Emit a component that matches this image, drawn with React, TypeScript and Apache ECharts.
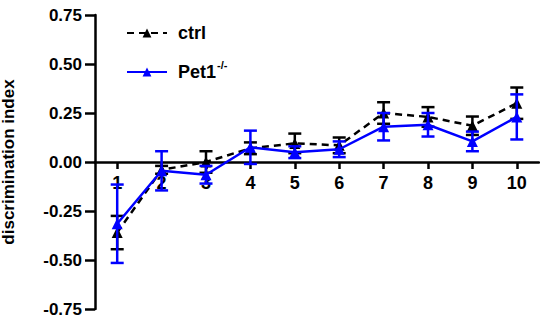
import React, { useEffect, useRef } from "react";
import * as echarts from "echarts";

const categories = ["1", "2", "3", "4", "5", "6", "7", "8", "9", "10"];
const ctrlMean = [-0.36, -0.04, 0.0, 0.07, 0.095, 0.085, 0.25, 0.23, 0.185, 0.3];
const ctrlErr = [0.085, 0.02, 0.055, 0.03, 0.05, 0.04, 0.055, 0.05, 0.047, 0.08];
const pet1Mean = [-0.315, -0.045, -0.065, 0.075, 0.05, 0.065, 0.18, 0.19, 0.105, 0.23];
const pet1Err = [0.2, 0.1, 0.045, 0.085, 0.03, 0.04, 0.07, 0.06, 0.05, 0.115];
const yTicks = [-0.75, -0.5, -0.25, 0, 0.25, 0.5, 0.75];

const FONT = "Liberation Sans, Arial, sans-serif";
const GRID_TOP = 15;
const GRID_BOTTOM = 10;
const HEIGHT = 319;

function errorSeries(name: string, mean: number[], err: number[], color: string, z: number) {
  const data = mean.map((m, i) => [i, m - err[i], m + err[i]]);
  return {
    type: "custom",
    name: name + "-err",
    z,
    silent: true,
    renderItem: (params: any, api: any) => {
      const x = api.value(0);
      const lo = api.coord([x, api.value(1)]);
      const hi = api.coord([x, api.value(2)]);
      const hw = 6.5;
      const style = { stroke: color, lineWidth: 2.5, fill: "none" };
      return {
        type: "group",
        children: [
          { type: "line", shape: { x1: lo[0], y1: lo[1], x2: hi[0], y2: hi[1] }, style },
          { type: "line", shape: { x1: lo[0] - hw, y1: lo[1], x2: lo[0] + hw, y2: lo[1] }, style },
          { type: "line", shape: { x1: hi[0] - hw, y1: hi[1], x2: hi[0] + hw, y2: hi[1] }, style },
        ],
      };
    },
    encode: { x: 0, y: 1 },
    data,
  };
}

export default function App() {
  const ref = useRef<HTMLDivElement>(null);
  useEffect(() => {
    if (!ref.current) return;
    const chart = echarts.init(ref.current, undefined, { renderer: "svg" });
    const yMin = yTicks[0];
    const yMax = yTicks[yTicks.length - 1];
    const plotH = HEIGHT - GRID_TOP - GRID_BOTTOM;
    const zeroOffset = -plotH * ((0 - yMin) / (yMax - yMin));
    chart.setOption({
      animation: false,
      backgroundColor: "#ffffff",
      grid: { left: 95, right: 1, top: GRID_TOP, bottom: GRID_BOTTOM, containLabel: false, outerBoundsMode: "none" },
      legend: {
        orient: "vertical",
        left: 121,
        top: 19,
        itemWidth: 40,
        itemHeight: 11,
        itemGap: 17,
        data: ["ctrl", "Pet1"],
        formatter: (n: string) => (n === "Pet1" ? "Pet1{sup|-/-}" : n),
        textStyle: {
          fontFamily: FONT,
          fontWeight: "bold",
          fontSize: 18,
          color: "#000",
          padding: [0, 0, 0, 6],
          rich: {
            sup: { fontFamily: FONT, fontWeight: "bold", fontSize: 11, verticalAlign: "bottom", padding: [0, 0, 15, 1], color: "#000" },
          },
        },
      },
      xAxis: {
        type: "category",
        data: categories,
        boundaryGap: true,
        position: "bottom",
        offset: zeroOffset,
        axisLine: { show: true, onZero: false, lineStyle: { color: "#000", width: 2.5 } },
        axisTick: { show: true, alignWithLabel: true, length: 7, lineStyle: { color: "#000", width: 2.5 } },
        axisLabel: { show: false },
        splitLine: { show: false },
      },
      yAxis: {
        type: "value",
        min: yMin,
        max: yMax,
        interval: 0.25,
        name: "discrimination index",
        nameLocation: "middle",
        nameGap: 78,
        nameTextStyle: { fontFamily: FONT, fontWeight: "bold", fontSize: 17, color: "#000" },
        axisLine: { show: true, onZero: false, lineStyle: { color: "#000", width: 2.5 } },
        axisTick: { show: true, length: 10, lineStyle: { color: "#000", width: 2.5 } },
        axisLabel: {
          fontFamily: FONT,
          fontWeight: "bold",
          fontSize: 17,
          color: "#000",
          margin: 13,
          formatter: (v: number) => {
            const t = yTicks.find((k) => Math.abs(k - v) < 1e-9);
            return (t === undefined ? v : t).toFixed(2);
          },
        },
        splitLine: { show: false },
      },
      series: [
        {
          type: "custom",
          name: "xlabels",
          z: 1,
          silent: true,
          encode: { x: 0, y: 1 },
          data: categories.map((c, i) => [i, 0]),
          renderItem: (params: any, api: any) => {
            const p = api.coord([api.value(0), 0]);
            return {
              type: "text",
              x: p[0],
              y: p[1] + 12,
              style: {
                text: categories[params.dataIndex],
                fontFamily: FONT,
                fontWeight: "bold",
                fontSize: 18,
                fill: "#000",
                align: "center",
                verticalAlign: "top",
              },
            };
          },
        },
        errorSeries("ctrl", ctrlMean, ctrlErr, "#000000", 2),
        {
          type: "line",
          name: "ctrl",
          z: 3,
          data: ctrlMean,
          symbol: "triangle",
          symbolSize: 11,
          itemStyle: { color: "#000000" },
          lineStyle: { color: "#000000", width: 2.5, type: [7, 5] },
        },
        errorSeries("Pet1", pet1Mean, pet1Err, "#0000ff", 4),
        {
          type: "line",
          name: "Pet1",
          z: 5,
          data: pet1Mean,
          symbol: "triangle",
          symbolSize: 11,
          itemStyle: { color: "#0000ff" },
          lineStyle: { color: "#0000ff", width: 2.5 },
        },
      ],
    });
    return () => chart.dispose();
  }, []);
  return <div ref={ref} style={{ width: 540, height: 319, position: "absolute", left: 0, top: 0 }} />;
}
